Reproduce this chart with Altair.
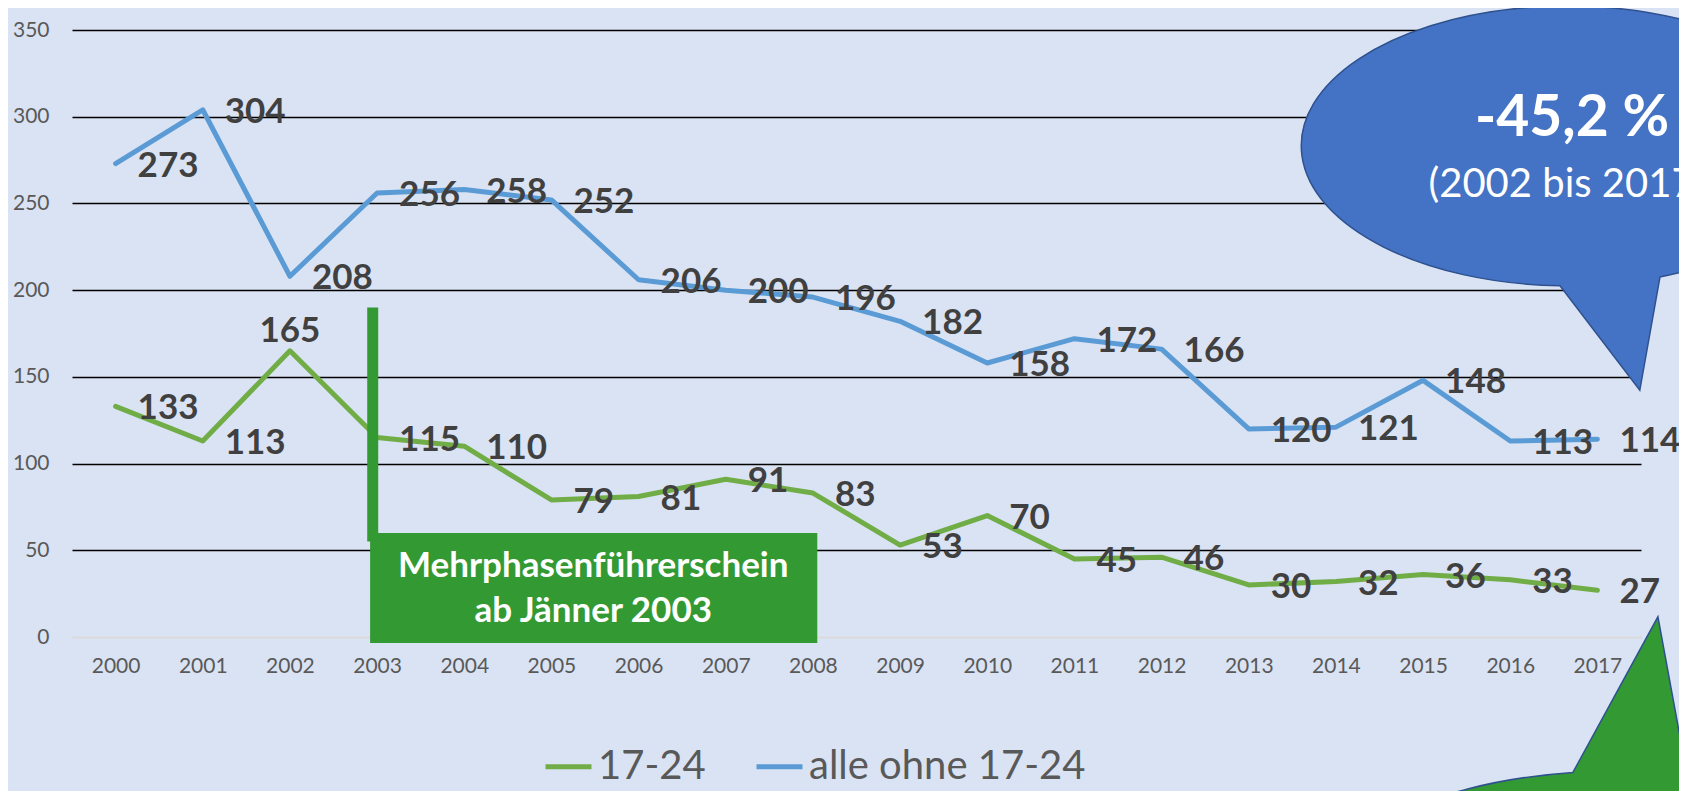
import altair as alt
import pandas as pd

# ---- data ----
years = list(range(2000, 2018))
young = [133, 113, 165, 115, 110, 79, 81, 91, 83, 53, 70, 45, 46, 30, 32, 36, 33, 27]
others = [273, 304, 208, 256, 258, 252, 206, 200, 196, 182, 158, 172, 166, 120, 121, 148, 113, 114]
young_label_pos = ["right", "right", "above"] + ["right"] * 15
others_label_pos = ["right"] * 18
series_names = ["17-24", "alle ohne 17-24"]
series_colors = ["#70AD47", "#5B9BD5"]
y_ticks = [0, 50, 100, 150, 200, 250, 300, 350]

box_lines = ["Mehrphasenführerschein", "ab Jänner 2003"]
bubble_big = "-45,2 %"
bubble_small = "(2002 bis 2017)"

df = pd.DataFrame({
    "year": years * 2,
    "value": young + others,
    "series": [series_names[0]] * len(years) + [series_names[1]] * len(years),
    "pos": young_label_pos + others_label_pos,
})

FONT = "Lato"

x_enc = alt.X("year:Q",
              scale=alt.Scale(domain=[1999.5, 2017.5], nice=False, zero=False),
              axis=alt.Axis(values=years, format="d", grid=False, ticks=False,
                            domainColor="#D9D9D9", domainWidth=1.5,
                            labelFont=FONT, labelFontSize=21, labelColor="#595959",
                            labelPadding=18, labelFlush=False, labelOverlap=False,
                            title=None))
y_enc = alt.Y("value:Q",
              scale=alt.Scale(domain=[0, 350], nice=False),
              axis=alt.Axis(values=y_ticks, grid=True,
                            gridColor={"condition": {"test": "datum.value === 0", "value": "#D9D9D9"},
                                       "value": "#000000"},
                            gridWidth=1.5, domain=False, ticks=False,
                            labelFont=FONT, labelFontSize=21, labelColor="#595959",
                            labelPadding=23, title=None))

base = alt.Chart(df)

lines = base.mark_line(strokeWidth=5, strokeCap="round", strokeJoin="round").encode(
    x=x_enc, y=y_enc,
    color=alt.Color("series:N",
                    scale=alt.Scale(domain=series_names, range=series_colors),
                    legend=alt.Legend(orient="none", legendX=471, legendY=711,
                                      direction="horizontal", title=None,
                                      symbolType="stroke", symbolSize=2116,
                                      symbolStrokeWidth=5,
                                      labelFont=FONT, labelFontSize=40,
                                      labelColor="#595959", labelOffset=4,
                                      labelLimit=0,
                                      columnPadding=40, padding=0)),
)

label_style = dict(font=FONT, fontWeight="bold", fontSize=35, color="#404040", baseline="middle")
labels_right = base.transform_filter("datum.pos === 'right'").mark_text(
    align="left", dx=22, dy=2, **label_style).encode(x=x_enc, y=y_enc, text="value:Q")
labels_above = base.transform_filter("datum.pos === 'above'").mark_text(
    align="center", dx=0, dy=-20, **label_style).encode(x=x_enc, y=y_enc, text="value:Q")

# ---- annotations (in data coordinates) ----
bar_df = pd.DataFrame({"year": [2002.95], "value": [190], "value2": [55]})
bar = alt.Chart(bar_df).mark_rule(color="#339933", strokeWidth=11).encode(
    x=x_enc, y=y_enc, y2="value2:Q")

box_df = pd.DataFrame({"year": [2002.92], "year2": [2008.05], "value": [60], "value2": [-3.5]})
box = alt.Chart(box_df).mark_rect(color="#339933").encode(
    x=x_enc, x2="year2:Q", y=y_enc, y2="value2:Q")

boxtxt_df = pd.DataFrame({"year": [2005.48, 2005.48], "value": [41.2, 15.0], "t": box_lines})
boxtxt = alt.Chart(boxtxt_df).mark_text(font=FONT, fontWeight="bold", fontSize=35, color="white",
                                         align="center", baseline="middle").encode(
    x=x_enc, y=y_enc, text="t:N")

blue_path = "M-0.026,0.5258 A1,0.526 0 1,1 0.35,0.493 L0.274,0.919 Z"
blue_df = pd.DataFrame({"year": [2016.65], "value": [283.2]})
blue_bubble = alt.Chart(blue_df).mark_point(shape=blue_path, filled=True, fill="#4472C4",
                                            stroke="#2F528F", strokeWidth=1.5, opacity=1,
                                            size=283024).encode(x=x_enc, y=y_enc)

bt_df = pd.DataFrame({"year": [2016.71, 2016.65], "value": [298.5, 260.4],
                      "t": [bubble_big, bubble_small], "k": ["big", "small"]})
bt_big = alt.Chart(bt_df).transform_filter("datum.k === 'big'").mark_text(
    font=FONT, fontWeight="bold", fontSize=57, color="white", align="center",
    baseline="middle").encode(x=x_enc, y=y_enc, text="t:N")
bt_small = alt.Chart(bt_df).transform_filter("datum.k === 'small'").mark_text(
    font=FONT, fontSize=40, color="white", align="center",
    baseline="middle").encode(x=x_enc, y=y_enc, text="t:N")

green_path = "M-0.1567,-0.4313 L0.1267,-0.95 L0.2233,-0.4257 A1,0.4367 0 1,1 -0.1567,-0.4313 Z"
green_df = pd.DataFrame({"year": [2017.258], "value": [-152.7]})
green_bubble = alt.Chart(green_df).mark_point(shape=green_path, filled=True, fill="#339933",
                                              stroke="#2F528F", strokeWidth=1.5, opacity=1,
                                              size=360000).encode(x=x_enc, y=y_enc)

chart = alt.layer(
    lines, labels_right, labels_above, bar, box, boxtxt,
    blue_bubble, bt_big, bt_small, green_bubble
).properties(
    width=1569, height=607,
    autosize=alt.AutoSizeParams(type="none"),
    padding={"left": 64, "top": 22, "right": 38, "bottom": 154},
    background="#DAE3F3",
).configure_view(stroke=None)

chart.save("out.html", embed_options={"renderer": "svg", "actions": False})
